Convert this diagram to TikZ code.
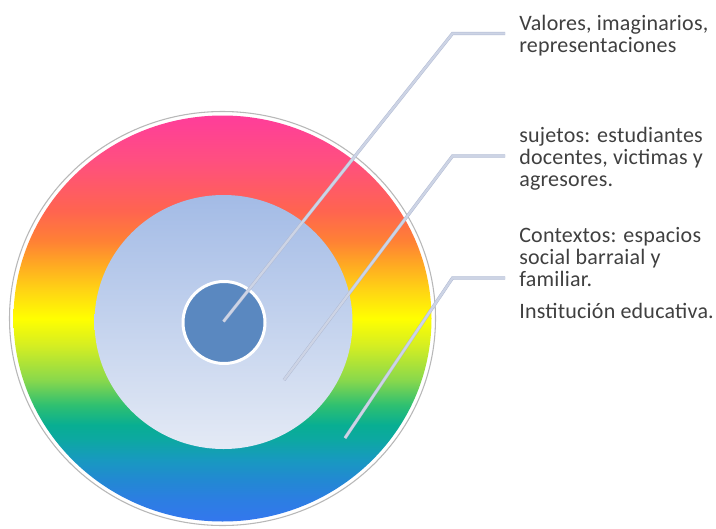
\documentclass[tikz,border=0pt]{standalone}
\usepackage{fontspec}
\setmainfont[LetterSpace=1]{Carlito}
\definecolor{rb1}{HTML}{3377EE}
\definecolor{rb2}{HTML}{2C7EE2}
\definecolor{rb3}{HTML}{2289D2}
\definecolor{rb4}{HTML}{1899C0}
\definecolor{rb5}{HTML}{0DA8A2}
\definecolor{rb6}{HTML}{08AE92}
\definecolor{rb7}{HTML}{30C070}
\definecolor{rb8}{HTML}{88D84C}
\definecolor{rb9}{HTML}{D5EE22}
\definecolor{rb10}{HTML}{FFFF00}
\definecolor{rb11}{HTML}{FFD414}
\definecolor{rb12}{HTML}{FFAA22}
\definecolor{rb13}{HTML}{FF8035}
\definecolor{rb14}{HTML}{FF6450}
\definecolor{rb15}{HTML}{FF4F80}
\definecolor{rb16}{HTML}{FF3D9A}
\definecolor{midtop}{HTML}{A3BBE6}
\definecolor{midbot}{HTML}{E4EAF5}
\definecolor{innerblue}{HTML}{5A88C0}
\definecolor{ringedge}{HTML}{B8B8B8}
\definecolor{callin}{HTML}{CDD4E5}
\definecolor{callout}{HTML}{B0BAD3}
\definecolor{labelgray}{HTML}{404040}
\pgfdeclareverticalshading{rainbow}{100bp}{color(0bp)=(rb1); color(25bp)=(rb1);
  color(27.7bp)=(rb2); color(30.2bp)=(rb3); color(32.6bp)=(rb4); color(35.1bp)=(rb5);
  color(36.9bp)=(rb6); color(39.4bp)=(rb7); color(42.4bp)=(rb8); color(46.7bp)=(rb9);
  color(50bp)=(rb10); color(53.5bp)=(rb11); color(56.6bp)=(rb12); color(59.6bp)=(rb13);
  color(63.3bp)=(rb14); color(69.5bp)=(rb15); color(75bp)=(rb16); color(100bp)=(rb16)}
\begin{document}
\begin{tikzpicture}[x=0.75pt, y=-0.75pt,
  lbl/.style={font=\fontsize{16.5}{16.5}\selectfont, text=labelgray, align=left,
    inner xsep=10.5pt, inner ysep=0pt, anchor=north west},
  callline/.style={draw=callout, line width=0.35pt, double=callin, double distance=1.7pt}]
\useasboundingbox[fill=white] (0,0) rectangle (716,528);
\coordinate (ctr) at (222.5,318.5);
\coordinate (mctr) at (223.5,322);
\coordinate (ictr) at (224,322.5);
\draw[ringedge, line width=0.8pt] (ctr) ellipse [x radius=213, y radius=207];
\shade[shading=rainbow] (ctr) ellipse [x radius=209, y radius=203];
\shade[top color=midtop, bottom color=midbot] (mctr) ellipse [x radius=129, y radius=127];
\filldraw[fill=innerblue, draw=white, line width=2.25pt] (ictr) circle [radius=41];
\node[lbl] (valores) at (505,15) {Valores, imaginarios,\\representaciones};
\node[lbl] (sujetos) at (505,127) {sujetos: estudiantes\\docentes, victimas y\\agresores.};
\node[lbl] (contextos) at (505,227) {Contextos: espacios\\social barraial y\\familiar.\\[7.5pt]Institución educativa.};
\coordinate (tip1) at (223.5,321.5);
\coordinate (tip2) at (284,380);
\coordinate (tip3) at (345,438);
\coordinate (bend1) at (452.5,33.5);
\coordinate (bend2) at (452.5,156);
\coordinate (bend3) at (452.5,278);
\draw[callline] (tip1) -- (bend1) -- (bend1 -| valores.west);
\draw[callline] (tip2) -- (bend2) -- (bend2 -| sujetos.west);
\draw[callline] (tip3) -- (bend3) -- (bend3 -| contextos.west);
\end{tikzpicture}
\end{document}
